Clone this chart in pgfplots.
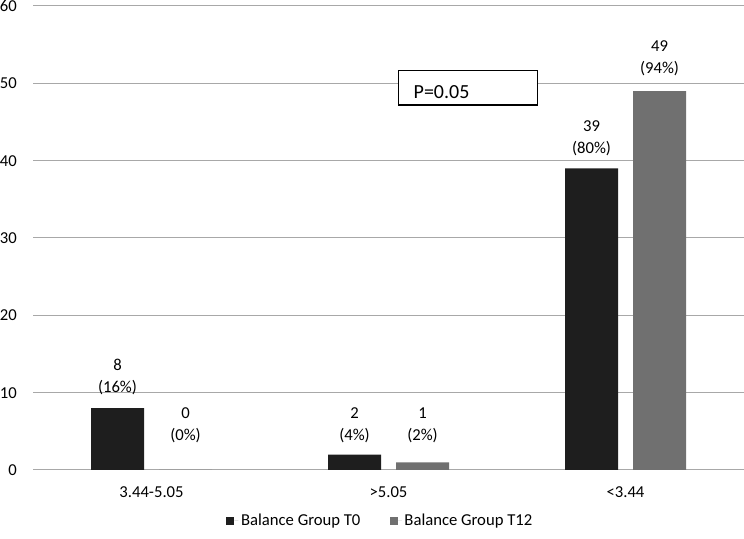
\documentclass[border=0pt]{standalone}
\usepackage{fontspec}
\setmainfont{Carlito}
\usepackage{pgfplots}
\usepackage{pgfplotstable}
\pgfplotsset{compat=1.18}

\definecolor{tzero}{HTML}{1E1E1E}
\definecolor{ttwelve}{HTML}{707070}
\definecolor{gridgray}{HTML}{A8A8A8}

% counts, percentages and label lift (pt) per category
\pgfplotstableread{
x y pct dy
0 8 16 9.75
1 2 4 8.6
2 39 80 9.3
}\groupTzero
\pgfplotstableread{
x y pct dy
0 0 0 20.25
1 1 2 14.5
2 49 94 11.3
}\groupTtwelve

\begin{document}
\begin{tikzpicture}
\begin{axis}[
  name=ax,
  /pgf/number format/assume math mode=true,
  width=533.25pt, height=348pt, scale only axis,
  xmin=-0.5, xmax=2.5, ymin=0, ymax=60,
  xtick={0,1,2},
  xticklabels={3.44-5.05,>5.05,<3.44},
  ytick={0,10,...,60},
  ymajorgrids,
  major grid style={color=gridgray, line width=0.75pt},
  axis line style={draw=none},
  major tick length=0pt,
  tick label style={font=\fontsize{12.5}{15}\selectfont},
  yticklabel style={anchor=east, inner sep=0pt, xshift=-12pt},
  xticklabel style={anchor=north, inner sep=0pt, yshift=-12.3pt},
  ybar, bar width=39.75pt,
  point meta=y,
  nodes near coords={\pgfmathprintnumber{\pgfplotspointmeta}\\(\pgfmathprintnumber{\pct}\%)},
  visualization depends on={\thisrow{pct}\as\pct},
  visualization depends on={\thisrow{dy}\as\dy},
  every node near coord/.append style={font=\fontsize{12.5}{16.5}\selectfont,
    align=center, inner sep=0pt, anchor=south, yshift=\dy pt, color=black},
  legend style={draw=none, fill=none, at={(0.489,-0.1099)}, anchor=center,
    legend columns=2, font=\fontsize{12.5}{15}\selectfont,
    /tikz/every even column/.append style={column sep=20pt}},
  legend cell align=left,
  legend image code/.code={\fill[#1] (0pt,-3pt) rectangle (6pt,3pt);
    \path (6pt,0pt) -- (9pt,0pt);},
  clip=false,
]
\addplot[fill=tzero, draw=none, bar shift=-25.5pt] table[x=x, y=y] {\groupTzero};
\addlegendentry{Balance Group T0}
\addplot[fill=ttwelve, draw=none, bar shift=25.5pt] table[x=x, y=y] {\groupTtwelve};
\addlegendentry{Balance Group T12}

% significance box
\draw[black, line width=0.8pt, fill=white] (axis cs:1.041,47.2) rectangle (axis cs:1.628,51.6);
\node[anchor=west, inner sep=0pt, font=\fontsize{15}{18}\selectfont] at (axis cs:1.105,48.9) {P=0.05};
\end{axis}
\pgfresetboundingbox
\path[use as bounding box] ([xshift=-24.75pt,yshift=-51.75pt]ax.south west) rectangle ([yshift=4.5pt]ax.north east);
\end{tikzpicture}
\end{document}
